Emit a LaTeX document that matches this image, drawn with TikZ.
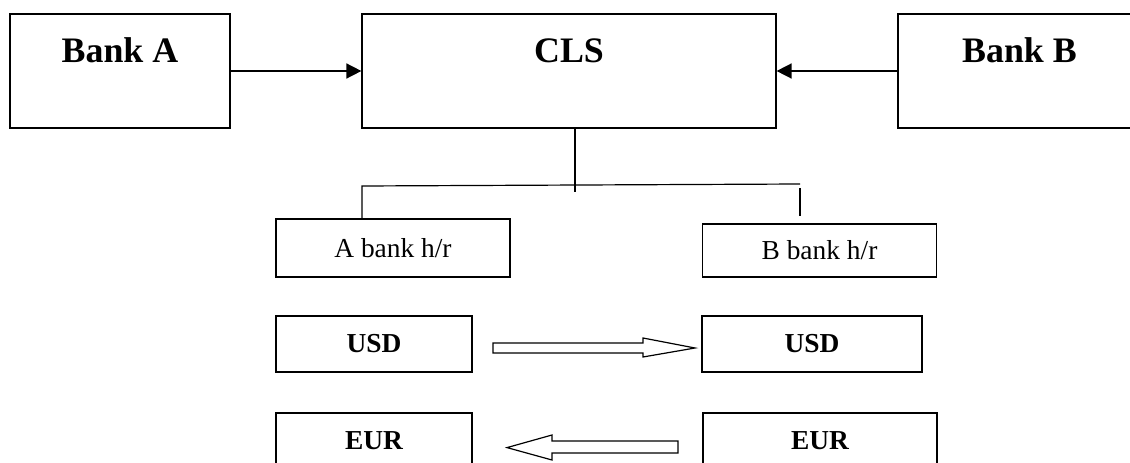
\documentclass[tikz,border=0pt]{standalone}
\usepackage{fontspec}
\setmainfont{Liberation Serif}
\usepackage{tikz}
\usetikzlibrary{arrows.meta, positioning, calc}
\tikzset{
  bankbox/.style={rectangle, draw=black, line width=0.85pt, inner sep=0pt,
    text height=1.2cm, text depth=1.65cm, anchor=base,
    font=\fontsize{25.5}{30}\selectfont\bfseries},
  hrbox/.style={rectangle, draw=black, line width=0.85pt, inner sep=0pt,
    minimum width=5.85cm, font=\fontsize{19.5}{23}\selectfont},
  curbox/.style={rectangle, draw=black, line width=0.85pt, inner sep=0pt,
    minimum height=1.4cm, font=\fontsize{19.5}{23}\selectfont\bfseries},
  arrow/.style={-{Triangle[length=3.75mm,width=3.75mm]}, line width=1.1pt},
  line/.style={line width=0.85pt},
  hollow/.style={draw=black, fill=white, line width=0.85pt}
}
\begin{document}
\begin{tikzpicture}
  \clip (0,0) rectangle (28.25,-11.575);

  % top row
  \node[bankbox, minimum width=5.5cm] (banka) at (3.0,-1.55) {Bank A};
  \node[bankbox, minimum width=10.35cm] (cls) at (14.225,-1.55) {CLS};
  \node[bankbox, minimum width=6.075cm] (bankb) at (25.4875,-1.55) {Bank B};

  \draw[arrow] (banka) -- (cls);
  \draw[arrow] (bankb) -- (cls);

  % head offices
  \node[hrbox, minimum height=1.45cm] (ahr) at (9.825,-6.2) {A bank h/r};
  \node[hrbox, minimum height=1.325cm] (bhr) at (20.4875,-6.2625) {B bank h/r};

  \coordinate (tap) at (14.375,-4.64);
  \coordinate (busl) at (9.05,-4.65);
  \coordinate (busr) at (20.0,-4.6);
  \draw[line] (cls.south -| tap) -- ([yshift=-1.5mm]tap);
  \draw[line] (ahr.north -| busl) -- (busl) -- (busr);
  \draw[line] ([yshift=-1mm]busr) -- ([yshift=1.75mm]bhr.north -| busr);

  % currency legs
  \node[curbox, minimum width=4.9cm] (usda) at (9.35,-8.6) {USD};
  \node[curbox, minimum width=5.5cm] (usdb) at (20.3,-8.6) {USD};
  \node[curbox, minimum width=4.9cm] (eura) at (9.35,-11.025) {EUR};
  \node[curbox, minimum width=5.85cm] (eurb) at (20.5,-11.025) {EUR};

  \draw[hollow] (12.325,-8.575) -- (16.075,-8.575) -- (16.075,-8.45) -- (17.375,-8.7)
    -- (16.075,-8.925) -- (16.075,-8.825) -- (12.325,-8.825) -- cycle;
  \draw[hollow] (16.95,-11.025) -- (13.8,-11.025) -- (13.8,-10.875) -- (12.675,-11.19)
    -- (13.8,-11.5) -- (13.8,-11.325) -- (16.95,-11.325) -- cycle;
\end{tikzpicture}
\end{document}
